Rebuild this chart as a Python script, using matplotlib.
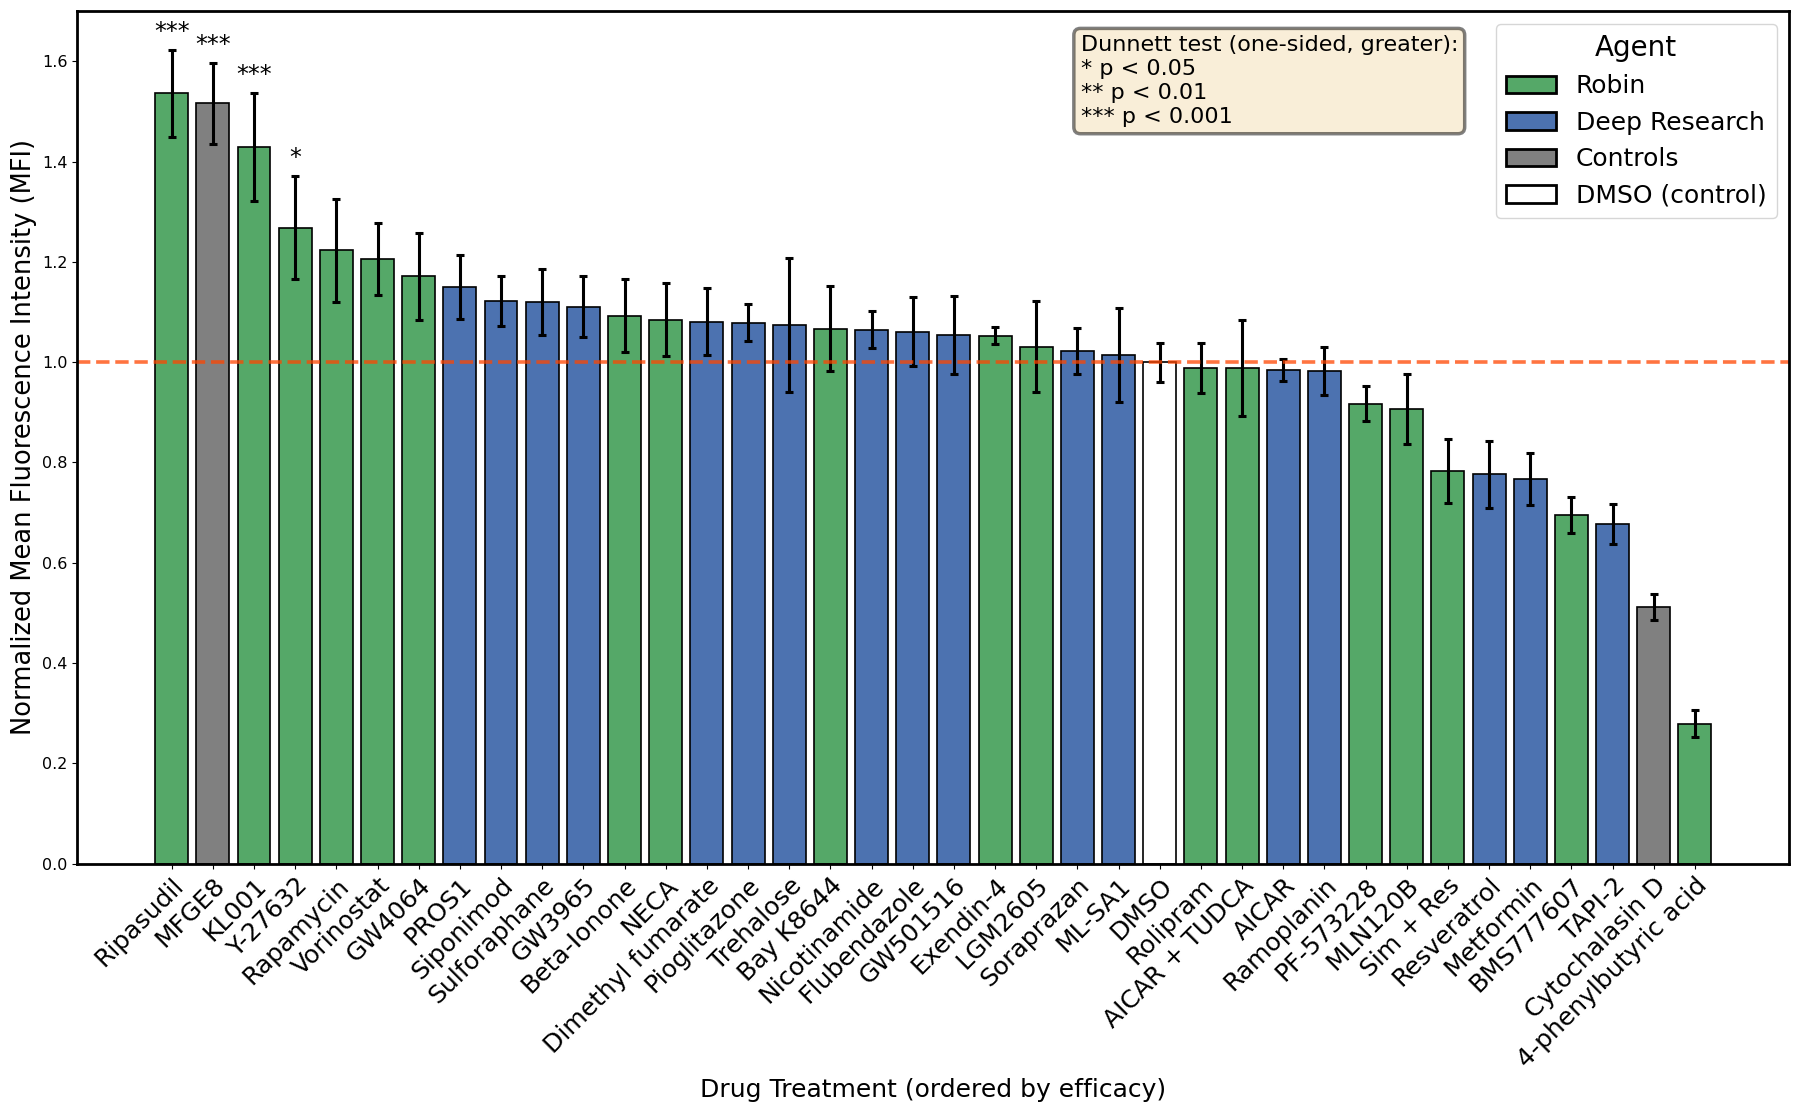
import matplotlib
matplotlib.use("Agg")
import matplotlib.pyplot as plt
from matplotlib.patches import Patch

# drugs ordered by efficacy, with agent, mean and error
drugs = ["Ripasudil", "MFGE8", "KL001", "Y-27632", "Rapamycin", "Vorinostat", "GW4064",
         "PROS1", "Siponimod", "Sulforaphane", "GW3965", "Beta-Ionone", "NECA",
         "Dimethyl fumarate", "Pioglitazone", "Trehalose", "Bay K8644", "Nicotinamide",
         "Flubendazole", "GW501516", "Exendin-4", "LGM2605", "Soraprazan", "ML-SA1",
         "DMSO", "Rolipram", "AICAR + TUDCA", "AICAR", "Ramoplanin", "PF-573228",
         "MLN120B", "Sim + Res", "Resveratrol", "Metformin", "BMS777607", "TAPI-2",
         "Cytochalasin D", "4-phenylbutyric acid"]
agents = ["Robin", "Controls", "Robin", "Robin", "Robin", "Robin", "Robin",
          "Deep Research", "Deep Research", "Deep Research", "Deep Research", "Robin", "Robin",
          "Deep Research", "Deep Research", "Deep Research", "Robin", "Deep Research",
          "Deep Research", "Deep Research", "Robin", "Robin", "Deep Research", "Deep Research",
          "DMSO", "Robin", "Robin", "Deep Research", "Deep Research", "Robin",
          "Robin", "Robin", "Deep Research", "Deep Research", "Robin", "Deep Research",
          "Controls", "Robin"]
mfi = [1.536, 1.516, 1.429, 1.268, 1.223, 1.206, 1.171,
       1.150, 1.122, 1.120, 1.111, 1.093, 1.085,
       1.081, 1.079, 1.074, 1.067, 1.065,
       1.061, 1.054, 1.053, 1.031, 1.023, 1.015,
       1.000, 0.989, 0.989, 0.985, 0.982, 0.917,
       0.906, 0.783, 0.776, 0.767, 0.696, 0.677,
       0.511, 0.279]
sem = [0.086, 0.080, 0.108, 0.103, 0.103, 0.072, 0.087,
       0.063, 0.049, 0.066, 0.061, 0.073, 0.072,
       0.067, 0.037, 0.134, 0.085, 0.037,
       0.069, 0.077, 0.017, 0.091, 0.046, 0.094,
       0.039, 0.050, 0.096, 0.022, 0.048, 0.035,
       0.070, 0.063, 0.067, 0.051, 0.036, 0.040,
       0.026, 0.027]
stars = {"Ripasudil": "***", "MFGE8": "***", "KL001": "***", "Y-27632": "*"}

colors = {"Robin": "#55A868", "Deep Research": "#4C72B0", "Controls": "#808080", "DMSO": "white"}

fig, ax = plt.subplots(figsize=(18, 11.2), dpi=100)
x = list(range(len(drugs)))
ax.bar(x, mfi, width=0.8, color=[colors[a] for a in agents], edgecolor="black", linewidth=1.2,
       yerr=sem, capsize=3, error_kw=dict(elinewidth=2.2, capthick=2.2, ecolor="black"))

ax.axhline(1.0, color="orangered", linestyle="--", linewidth=2.6, alpha=0.75)

for i, d in enumerate(drugs):
    if d in stars:
        ax.text(i, mfi[i] + sem[i] + 0.012, stars[d], ha="center", va="bottom", fontsize=17)

ax.set_xticks(x)
ax.set_xticklabels(drugs, rotation=45, ha="right", rotation_mode="anchor", fontsize=18)
ax.tick_params(axis="y", labelsize=11.5)
ax.set_ylim(0, 1.70)
ax.set_xlabel("Drug Treatment (ordered by efficacy)", fontsize=18)
ax.set_ylabel("Normalized Mean Fluorescence Intensity (MFI)", fontsize=18.5)
for s in ax.spines.values():
    s.set_linewidth(2)

handles = [Patch(facecolor=colors["Robin"], edgecolor="black", linewidth=2, label="Robin"),
           Patch(facecolor=colors["Deep Research"], edgecolor="black", linewidth=2, label="Deep Research"),
           Patch(facecolor=colors["Controls"], edgecolor="black", linewidth=2, label="Controls"),
           Patch(facecolor="white", edgecolor="black", linewidth=2, label="DMSO (control)")]
leg = ax.legend(handles=handles, title="Agent", loc="upper right", fontsize=18, title_fontsize=20)

ax.text(0.586, 0.972, "Dunnett test (one-sided, greater):\n* p < 0.05\n** p < 0.01\n*** p < 0.001",
        transform=ax.transAxes, va="top", ha="left", fontsize=16, linespacing=1.25,
        bbox=dict(boxstyle="round", facecolor="wheat", alpha=0.5, edgecolor="black", linewidth=2.5))

plt.subplots_adjust(left=0.043, right=0.994, top=0.99, bottom=0.229)
plt.savefig("out.png")
